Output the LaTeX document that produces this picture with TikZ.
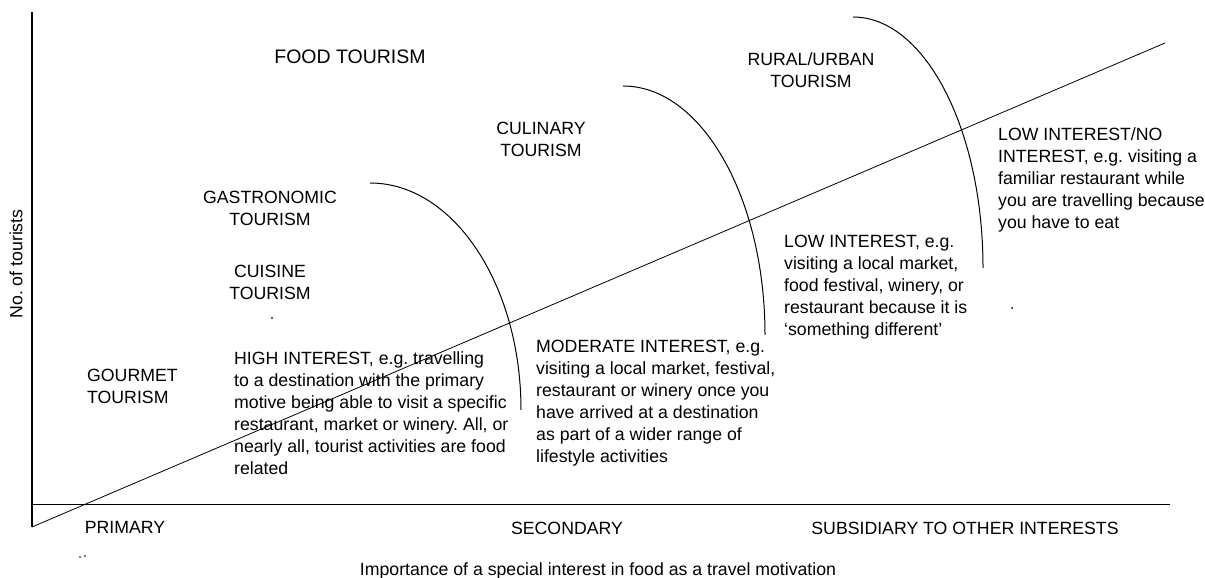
\documentclass[tikz,border=0pt]{standalone}
\usepackage{fontspec}
\setmainfont{Liberation Sans}
\frenchspacing

\begin{document}
\begin{tikzpicture}[x=1pt, y=1pt,
    every node/.style={font=\fontsize{17.7}{22}\selectfont, inner sep=0pt},
    block/.style={align=left, anchor=north west}]
    \useasboundingbox (0,0) rectangle (1205,578);

    \coordinate (O) at (32,51);
    \coordinate (Y) at (32,566);
    \coordinate (L) at (31,74);
    \coordinate (R) at (1170,74);
    \coordinate (E) at (1165,535);

    % axes and the rising line
    \draw[line width=1.6pt] (Y) -- (O);
    \draw[line width=0.8pt] (L) -- (R);
    \draw[line width=0.8pt] (O) -- (E);

    % boundaries between the interest levels
    \coordinate (A1) at (370,395);
    \coordinate (A2) at (623,492);
    \coordinate (A3) at (853,561);
    \draw[line width=1pt] (A1) arc[start angle=90, end angle=0, x radius=151, y radius=227];
    \draw[line width=1pt] (A2) arc[start angle=90, end angle=0, x radius=142, y radius=249];
    \draw[line width=1pt] (A3) arc[start angle=90, end angle=0, x radius=130, y radius=251];

    % kinds of tourism
    \node[font=\fontsize{19.5}{22}\selectfont] (food) at (350,521) {FOOD TOURISM};
    \node[align=center] (rural) at (811,508) {RURAL/URBAN\\TOURISM};
    \node[align=center] (culinary) at (541,439) {CULINARY\\TOURISM};
    \node[align=center] (gastro) at (270,370) {GASTRONOMIC\\TOURISM};
    \node[align=center] (cuisine) at (270,296) {CUISINE\\TOURISM};
    \node[block] (gourmet) at (87,209) {GOURMET\\TOURISM};

    % interest levels
    \node[block] (high) at (234,227) {HIGH INTEREST, e.g. travelling\\to a destination with the primary\\motive being able to visit a specific\\restaurant, market or winery. All, or\\nearly all, tourist activities are food\\related};
    \node[block] (moderate) at (536,238) {MODERATE INTEREST, e.g.\\visiting a local market, festival,\\restaurant or winery once you\\have arrived at a destination\\as part of a wider range of\\lifestyle activities};
    \node[block] (low) at (784,343) {LOW INTEREST, e.g.\\visiting a local market,\\food festival, winery, or\\restaurant because it is\\`something different'};
    \node[block] (none) at (998,451) {LOW INTEREST/NO\\INTEREST, e.g. visiting a\\familiar restaurant while\\you are travelling because\\you have to eat};

    % axis labels
    \node (primary) at (125,51) {PRIMARY};
    \node (secondary) at (567,50) {SECONDARY};
    \node (subsidiary) at (965,50) {SUBSIDIARY TO OTHER INTERESTS};
    \node (xlabel) at (598,7) {Importance of a special interest in food as a travel motivation};
    \node[rotate=90] (ylabel) at (16,314) {No. of tourists};

    % stray specks
    \fill (272,260) circle (1);
    \fill (1012,270) circle (1);
    \fill (80,21) circle (0.8);
    \fill (85,22) circle (0.8);
\end{tikzpicture}
\end{document}
